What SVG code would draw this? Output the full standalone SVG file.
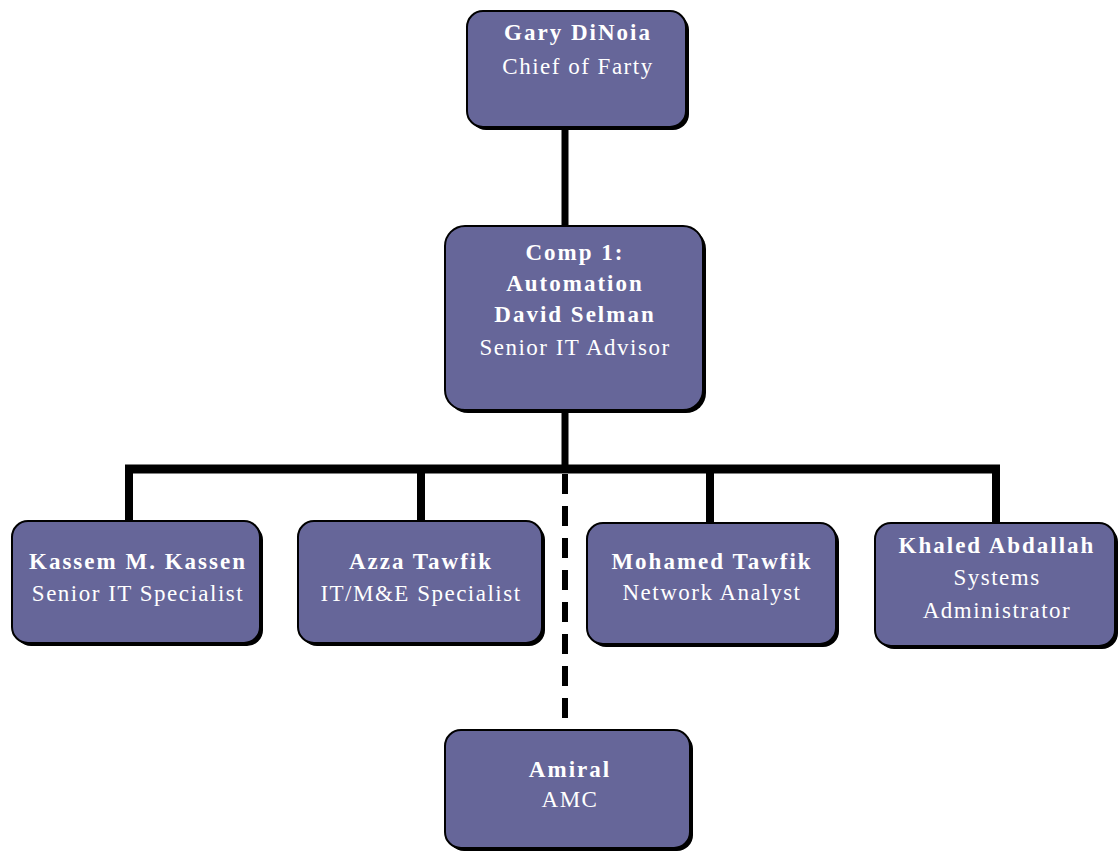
<svg xmlns="http://www.w3.org/2000/svg" width="1118" height="851" viewBox="0 0 1118 851">
<style>
.sh{fill:#000}
.bx{fill:#666699;stroke:#000;stroke-width:2}
.t{font-family:"Liberation Serif","Times New Roman",serif;font-size:23px;fill:#fff;text-anchor:middle;letter-spacing:1.5px}
.b{font-weight:bold;letter-spacing:2px}
.c{stroke:#000;fill:none}
</style>
<rect width="1118" height="851" fill="#fff"/>
<g id="connectors">
<line class="c" x1="565" y1="127" x2="565" y2="227" stroke-width="7"/>
<line class="c" x1="565" y1="410" x2="565" y2="470" stroke-width="7"/>
<line class="c" x1="125" y1="469" x2="1000" y2="469" stroke-width="9"/>
<line class="c" x1="129" y1="469" x2="129" y2="522" stroke-width="8"/>
<line class="c" x1="421" y1="469" x2="421" y2="522" stroke-width="8"/>
<line class="c" x1="710" y1="469" x2="710" y2="524" stroke-width="8"/>
<line class="c" x1="996" y1="469" x2="996" y2="524" stroke-width="8"/>
<line class="c" x1="565" y1="474" x2="565" y2="731" stroke-width="6" stroke-dasharray="20 12"/>
</g>
<g id="gary">
<rect class="sh" x="470" y="14" width="219" height="116" rx="16"/>
<rect class="bx" x="467" y="11" width="219" height="116" rx="16"/>
<text class="t b" x="578" y="40">Gary DiNoia</text>
<text class="t" x="578" y="74">Chief of Farty</text>
</g>
<g id="comp1">
<rect class="sh" x="448" y="229" width="258" height="184" rx="20"/>
<rect class="bx" x="445" y="226" width="258" height="184" rx="20"/>
<text class="t b" x="575" y="260">Comp 1:</text>
<text class="t b" x="575" y="291">Automation</text>
<text class="t b" x="575" y="322">David Selman</text>
<text class="t" x="575" y="355">Senior IT Advisor</text>
</g>
<g id="kassem">
<rect class="sh" x="15" y="524" width="248" height="122" rx="16"/>
<rect class="bx" x="12" y="521" width="248" height="122" rx="16"/>
<text class="t b" x="138" y="569">Kassem M. Kassen</text>
<text class="t" x="138" y="601">Senior IT Specialist</text>
</g>
<g id="azza">
<rect class="sh" x="301" y="524" width="244" height="122" rx="16"/>
<rect class="bx" x="298" y="521" width="244" height="122" rx="16"/>
<text class="t b" x="421" y="569">Azza Tawfik</text>
<text class="t" x="421" y="601">IT/M&amp;E Specialist</text>
</g>
<g id="mohamed">
<rect class="sh" x="590" y="526" width="249" height="121" rx="16"/>
<rect class="bx" x="587" y="523" width="249" height="121" rx="16"/>
<text class="t b" x="712" y="569">Mohamed Tawfik</text>
<text class="t" x="712" y="600">Network Analyst</text>
</g>
<g id="khaled">
<rect class="sh" x="878" y="526" width="240" height="123" rx="16"/>
<rect class="bx" x="875" y="523" width="240" height="123" rx="16"/>
<text class="t b" x="997" y="553">Khaled Abdallah</text>
<text class="t" x="997" y="585">Systems</text>
<text class="t" x="997" y="618">Administrator</text>
</g>
<g id="amiral">
<rect class="sh" x="448" y="733" width="245" height="118" rx="16"/>
<rect class="bx" x="445" y="730" width="245" height="118" rx="16"/>
<text class="t b" x="570" y="777">Amiral</text>
<text class="t" x="570" y="807">AMC</text>
</g>
</svg>
